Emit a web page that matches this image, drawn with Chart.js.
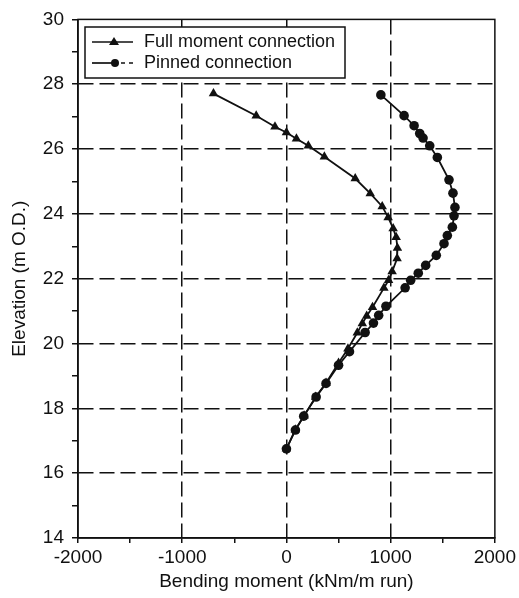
<!DOCTYPE html>
<html>
<head>
<meta charset="utf-8">
<script src="https://cdn.jsdelivr.net/npm/chart.js@4/dist/chart.umd.min.js"></script>
<style>
  html, body { margin: 0; padding: 0; background: #fff; }
  #wrap { width: 519px; height: 598px; position: relative; }
</style>
</head>
<body>
<div id="wrap"><canvas id="chart"></canvas></div>
<script>
// Full moment connection (triangles), bending moment vs elevation
const fullMoment = [-700, -290, -110, 0, 96, 210, 364, 660, 804, 919, 976, 1024, 1053, 1065, 1062, 1014, 980, 935, 826, 770, 728, 680, 590, 500, 380, 280, 170, 85, 0];
const fullElev = [27.71, 27.03, 26.69, 26.51, 26.32, 26.10, 25.76, 25.09, 24.63, 24.23, 23.89, 23.55, 23.28, 22.95, 22.62, 22.22, 21.95, 21.71, 21.12, 20.85, 20.62, 20.33, 19.84, 19.40, 18.78, 18.35, 17.77, 17.34, 16.75];

// Pinned connection (circles)
const pinnedMoment = [906, 1129, 1225, 1279, 1311, 1375, 1448, 1560, 1598, 1617, 1608, 1592, 1544, 1512, 1438, 1336, 1265, 1192, 1139, 955, 885, 835, 755, 605, 500, 380, 285, 166, 86, 0];
const pinnedElev = [27.67, 27.03, 26.72, 26.48, 26.34, 26.10, 25.74, 25.05, 24.64, 24.20, 23.94, 23.59, 23.33, 23.08, 22.72, 22.41, 22.17, 21.95, 21.72, 21.15, 20.87, 20.63, 20.34, 19.75, 19.33, 18.77, 18.35, 17.76, 17.33, 16.75];

const seriesNames = ['Full moment connection', 'Pinned connection'];
const xTicks = [-2000, -1000, 0, 1000, 2000];
const yTicks = [14, 16, 18, 20, 22, 24, 26, 28, 30];

const FONT = '"Liberation Sans", Arial, Helvetica, sans-serif';
const ink = '#111';

function toPoints(xs, ys) {
    return xs.map((x, i) => ({ x: x, y: ys[i] }));
}

// solid frame round the plot area
const framePlugin = {
    id: 'frame',
    afterDatasetsDraw(chart) {
        const a = chart.chartArea;
        const ctx = chart.ctx;
        ctx.save();
        ctx.strokeStyle = ink;
        ctx.lineWidth = 1.5;
        ctx.setLineDash([]);
        ctx.strokeRect(a.left, a.top, a.right - a.left, a.bottom - a.top);
        ctx.restore();
    }
};

// boxed legend with line + marker samples
const legendBox = {
    id: 'legendBox',
    afterDraw(chart) {
        const ctx = chart.ctx;
        const bx = 85, by = 27, bw = 260, bh = 51;
        ctx.save();
        ctx.fillStyle = '#fff';
        ctx.fillRect(bx, by, bw, bh);
        ctx.strokeStyle = ink;
        ctx.lineWidth = 1.5;
        ctx.strokeRect(bx, by, bw, bh);

        const rows = [42, 63];
        ctx.lineWidth = 1.7;
        // row 1: solid line with triangle
        ctx.beginPath();
        ctx.moveTo(92, rows[0]); ctx.lineTo(133, rows[0]);
        ctx.stroke();
        ctx.fillStyle = ink;
        ctx.beginPath();
        ctx.moveTo(114, rows[0] - 5); ctx.lineTo(119, rows[0] + 3); ctx.lineTo(109, rows[0] + 3);
        ctx.closePath(); ctx.fill();
        // row 2: line, circle, dashes
        ctx.beginPath();
        ctx.moveTo(92, rows[1]); ctx.lineTo(113, rows[1]);
        ctx.stroke();
        ctx.beginPath();
        ctx.arc(115, rows[1], 4, 0, Math.PI * 2); ctx.fill();
        ctx.beginPath();
        ctx.moveTo(121, rows[1]); ctx.lineTo(125, rows[1]);
        ctx.moveTo(129, rows[1]); ctx.lineTo(133, rows[1]);
        ctx.stroke();

        ctx.font = '18px ' + FONT;
        ctx.textBaseline = 'middle';
        ctx.textAlign = 'left';
        ctx.fillText(seriesNames[0], 144, rows[0]);
        ctx.fillText(seriesNames[1], 144, rows[1]);
        ctx.restore();
    }
};

new Chart(document.getElementById('chart'), {
    type: 'scatter',
    data: {
        datasets: [
            {
                label: seriesNames[0],
                data: toPoints(fullMoment, fullElev),
                showLine: true,
                borderColor: ink,
                backgroundColor: ink,
                borderWidth: 1.8,
                pointStyle: 'triangle',
                pointRadius: 5.5,
                pointBorderWidth: 0,
                tension: 0
            },
            {
                label: seriesNames[1],
                data: toPoints(pinnedMoment, pinnedElev),
                showLine: true,
                borderColor: ink,
                backgroundColor: ink,
                borderWidth: 1.8,
                pointStyle: 'circle',
                pointRadius: 4.8,
                pointBorderWidth: 0,
                tension: 0
            }
        ]
    },
    options: {
        responsive: true,
        maintainAspectRatio: false,
        animation: false,
        layout: { padding: { left: 0, right: 23, top: 18, bottom: 0 } },
        plugins: {
            legend: { display: false },
            tooltip: { enabled: false }
        },
        scales: {
            x: {
                type: 'linear',
                min: -2000,
                max: 2000,
                afterBuildTicks(scale) {
                    const t = [];
                    for (let v = -2000; v <= 2000; v += 500) t.push({ value: v });
                    scale.ticks = t;
                },
                afterFit(scale) { scale.height = 60; },
                ticks: {
                    color: ink,
                    font: { family: FONT, size: 19 },
                    padding: 3,
                    maxRotation: 0,
                    autoSkip: false,
                    callback: (v) => xTicks.includes(v) ? String(v) : ''
                },
                grid: {
                    color: (c) => (c.tick && c.tick.value % 1000 === 0 && Math.abs(c.tick.value) !== 2000) ? ink : 'rgba(0,0,0,0)',
                    tickColor: ink,
                    lineWidth: 1.5,
                    tickLength: 5,
                    drawTicks: true
                },
                border: { display: true, color: ink, width: 1.5, dash: [15, 6] },
                title: {
                    display: true,
                    text: 'Bending moment (kNm/m run)',
                    color: ink,
                    font: { family: FONT, size: 19 },
                    padding: { top: 0, bottom: 5 }
                }
            },
            y: {
                type: 'linear',
                min: 14,
                max: 30,
                afterBuildTicks(scale) {
                    const t = [];
                    for (let v = 14; v <= 30; v += 1) t.push({ value: v });
                    scale.ticks = t;
                },
                afterFit(scale) { scale.width = 78; },
                ticks: {
                    color: ink,
                    font: { family: FONT, size: 19 },
                    padding: 8,
                    autoSkip: false,
                    callback: (v) => yTicks.includes(v) ? String(v) : ''
                },
                grid: {
                    color: (c) => (c.tick && c.tick.value % 2 === 0 && c.tick.value !== 14 && c.tick.value !== 30) ? ink : 'rgba(0,0,0,0)',
                    tickColor: ink,
                    lineWidth: 1.5,
                    tickLength: 6
                },
                border: { display: true, color: ink, width: 1.5, dash: [15, 6] },
                title: {
                    display: true,
                    text: 'Elevation (m O.D.)',
                    color: ink,
                    font: { family: FONT, size: 19 },
                    padding: { top: 8, bottom: 0 }
                }
            }
        }
    },
    plugins: [framePlugin, legendBox]
});
</script>
</body>
</html>
